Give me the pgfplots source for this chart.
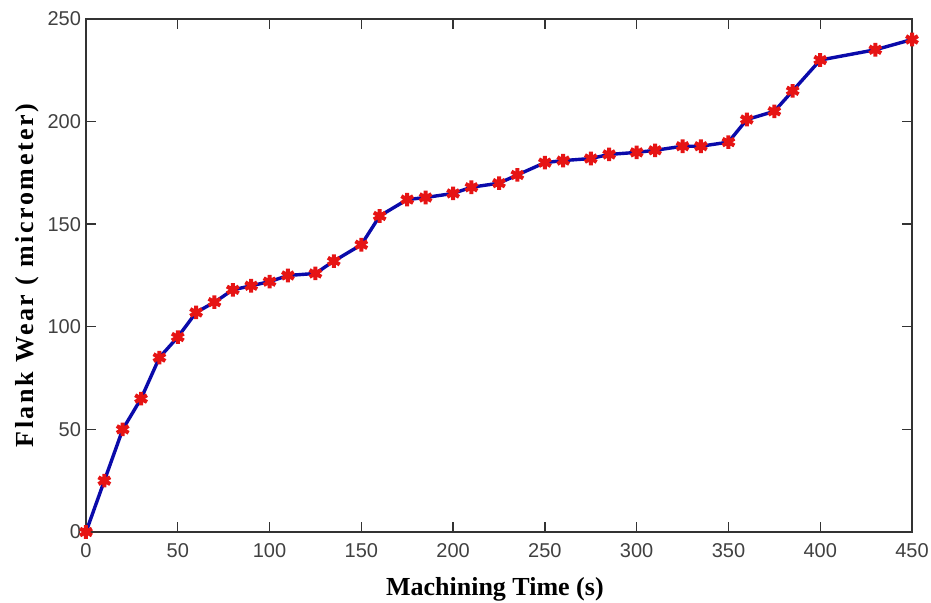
\documentclass[border=0pt]{standalone}
\usepackage{fontspec}
\setmainfont{Liberation Serif}
\newfontfamily\ticksans{Liberation Sans}
\usepackage{pgfplots}
\pgfplotsset{compat=1.18}

\pgfplotstableread{
t    wear
0    0
10   25
20   50
30   65
40   85
50   95
60   107
70   112
80   118
90   120
100  122
110  125
125  126
135  132
150  140
160  154
175  162
185  163
200  165
210  168
225  170
235  174
250  180
260  181
275  182
285  184
300  185
310  186
325  188
335  188
350  190
360  201
375  205
385  215
400  230
430  235
450  240
}\weartable

\definecolor{lineblue}{RGB}{10,10,170}
\definecolor{markred}{RGB}{230,20,20}

\begin{document}
\begin{tikzpicture}
\useasboundingbox (-43pt,-35.5pt) rectangle (422.5pt,266pt);
\begin{axis}[
    scale only axis,
    width=413pt,
    height=256.5pt,
    xmin=0, xmax=450,
    ymin=0, ymax=250,
    xtick distance=50,
    ytick distance=50,
    tick align=inside,
    major tick length=5pt,
    axis line style={black!80, line width=0.7pt},
    every tick/.style={black!80, line width=0.7pt},
    tick label style={font=\ticksans\fontsize{10}{12}\selectfont, text=black!75},
    /pgf/number format/assume math mode=true,
    xticklabel style={yshift=-2pt},
    yticklabel style={xshift=1pt},
    xlabel={Machining Time (s)},
    ylabel={Flank Wear ( micrometer)},
    xlabel style={font=\bfseries\fontsize{13}{15}\selectfont, at={(axis description cs:0.495,0)}, anchor=base, yshift=-32pt},
    ylabel style={font=\bfseries\fontsize{13}{15}\selectfont\addfontfeature{LetterSpace=10}, at={(axis description cs:-0.0714,0.5)}, anchor=center},
]
\addplot[lineblue, line width=1.7pt, mark=asterisk, mark size=3.4pt,
    mark options={markred, line width=2pt}] table[x=t, y=wear] {\weartable};
\end{axis}
\end{tikzpicture}
\end{document}
